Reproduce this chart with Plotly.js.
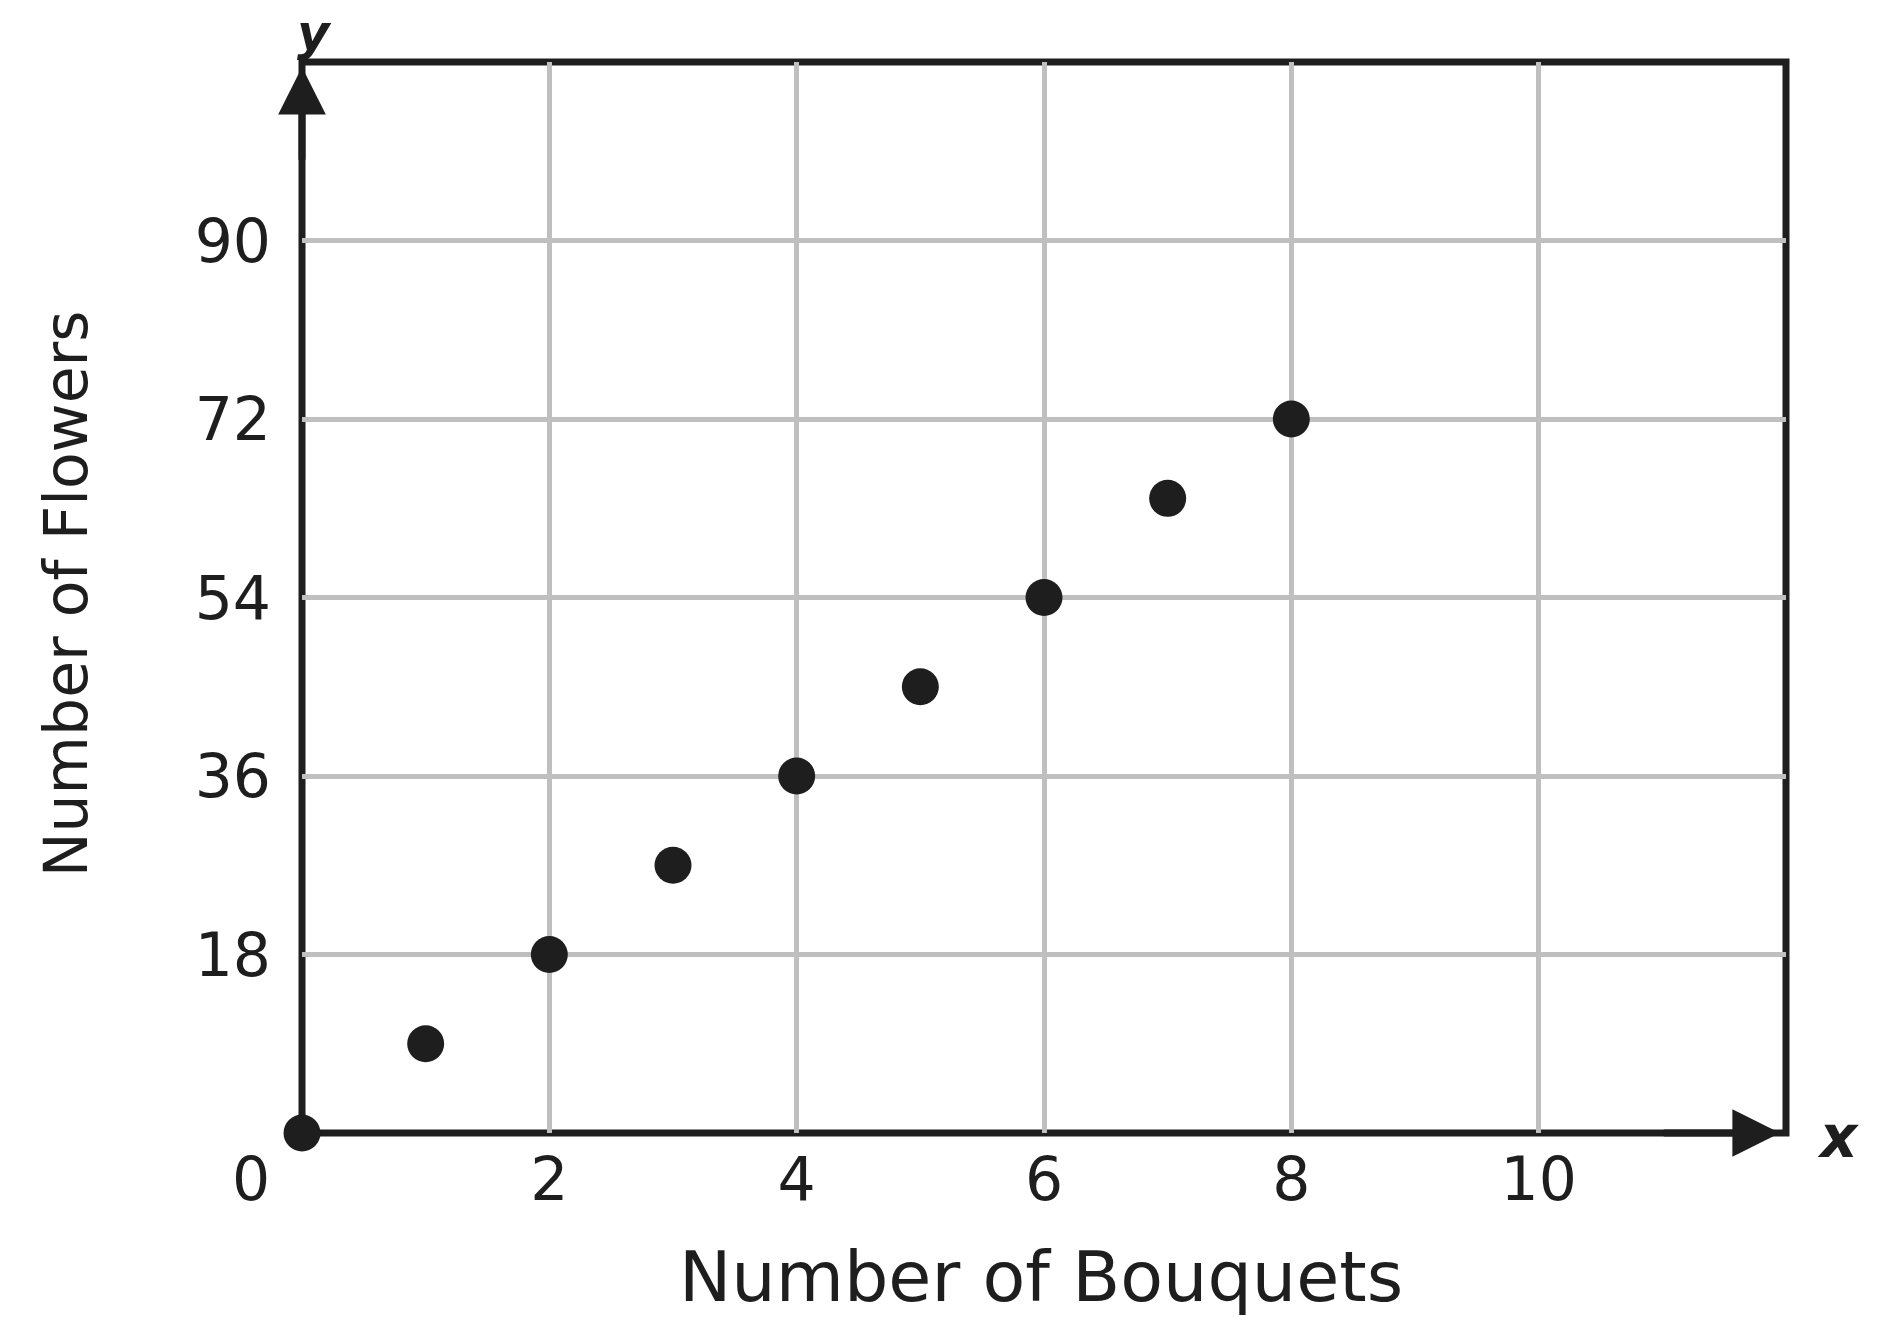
<!DOCTYPE html>
<html>
<head>
<meta charset="utf-8">
<script src="https://cdn.plot.ly/plotly-3.0.1.min.js"></script>
<style>html,body{margin:0;padding:0;background:#fff;}#chart{width:1878px;height:1323px;}</style>
</head>
<body>
<div id="chart"></div>
<script>
// Data
const bouquets = [0, 1, 2, 3, 4, 5, 6, 7, 8];
const flowers = [0, 9, 18, 27, 36, 45, 54, 64, 72];
const xTickVals = [2, 4, 6, 8, 10];
const yTickVals = [18, 36, 54, 72, 90];
const xTitle = "Number of Bouquets";
const yTitle = "Number of Flowers";
const xRange = [0, 12];
const yRange = [0, 108];

const ink = "#1e1e1e";
const font = "DejaVu Sans, Verdana, sans-serif";

const trace = {
  x: bouquets,
  y: flowers,
  type: "scatter",
  mode: "markers",
  marker: { size: 37, color: ink },
  cliponaxis: false,
  hoverinfo: "x+y"
};

const layout = {
  width: 1878,
  height: 1323,
  paper_bgcolor: "#ffffff",
  plot_bgcolor: "#ffffff",
  showlegend: false,
  margin: { l: 302, r: 92, t: 62, b: 190 },
  font: { family: font, color: ink },
  xaxis: {
    range: xRange,
    tickvals: xTickVals,
    ticks: "",
    showgrid: true,
    gridcolor: "#bfbfbf",
    gridwidth: 5,
    zeroline: false,
    showline: false,
    tickfont: { family: font, size: 60, color: ink },
    ticklabelstandoff: 6,
    fixedrange: true
  },
  yaxis: {
    range: yRange,
    tickvals: yTickVals,
    ticks: "",
    showgrid: true,
    gridcolor: "#bfbfbf",
    gridwidth: 5,
    zeroline: false,
    showline: false,
    tickfont: { family: font, size: 60, color: ink },
    ticklabelstandoff: 30,
    fixedrange: true
  },
  shapes: [
    // frame of the plot area (axes plus top/right border)
    { type: "rect", xref: "paper", yref: "paper", x0: 0, x1: 1, y0: 0, y1: 1,
      line: { color: ink, width: 7 }, fillcolor: "rgba(0,0,0,0)", layer: "between" }
  ],
  annotations: [
    // axis titles
    { x: 0.498, y: 0, xref: "paper", yref: "paper", text: xTitle, showarrow: false,
      xanchor: "center", yanchor: "middle", yshift: -144,
      font: { family: font, size: 70, color: ink } },
    { x: 0, y: 0.503, xref: "paper", yref: "paper", text: yTitle, showarrow: false,
      textangle: -90, xanchor: "center", yanchor: "middle", xshift: -236,
      font: { family: font, size: 60, color: ink } },
    // shared origin label
    { x: 0, y: 0, xref: "x", yref: "y", text: "0", showarrow: false,
      xshift: -51, yshift: -46, font: { family: font, size: 60, color: ink } },
    // y-axis arrow head
    { x: 0, y: yRange[1], xref: "x", yref: "y", axref: "x", ayref: "y", ax: 0, ay: yRange[1] - 10,
      showarrow: true, arrowhead: 2, arrowwidth: 7, arrowsize: 1.36, standoff: 5,
      arrowcolor: ink, text: "" },
    // x-axis arrow head
    { x: xRange[1], y: 0, xref: "x", yref: "y", axref: "x", ayref: "y", ax: xRange[1] - 1, ay: 0,
      showarrow: true, arrowhead: 2, arrowwidth: 7, arrowsize: 1.36, standoff: 6,
      arrowcolor: ink, text: "" },
    // axis letters
    { x: 0, y: yRange[1], xref: "x", yref: "y", text: "<b><i>y</i></b>", showarrow: false,
      xshift: 12, yshift: 29, font: { family: font, size: 50, color: ink } },
    { x: xRange[1], y: 0, xref: "x", yref: "y", text: "<b><i>x</i></b>", showarrow: false,
      xshift: 52, yshift: -4, font: { family: font, size: 58, color: ink } }
  ]
};

Plotly.newPlot("chart", [trace], layout, { displayModeBar: false, staticPlot: true });
</script>
</body>
</html>
